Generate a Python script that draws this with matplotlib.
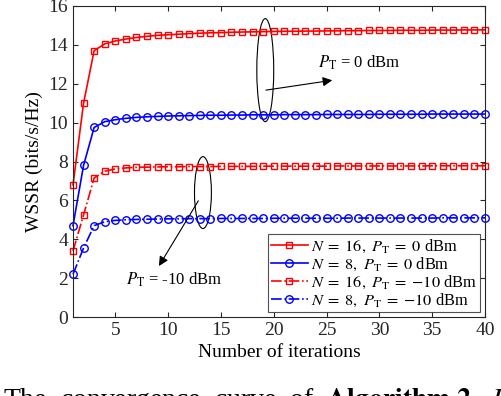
import numpy as np
import matplotlib.pyplot as plt
from matplotlib.patches import Ellipse

plt.rcParams['font.family'] = ['Liberation Serif', 'DejaVu Serif']
plt.rcParams['mathtext.fontset'] = 'stix'

iters = np.arange(1, 41)

# N = 16, PT = 0 dBm
w16_0 = [6.8, 11.0, 13.7, 14.05, 14.2, 14.3, 14.38, 14.44, 14.49, 14.52,
         14.55, 14.58, 14.6, 14.62, 14.63, 14.65, 14.66, 14.67, 14.68, 14.69,
         14.7, 14.7, 14.71, 14.71, 14.72, 14.72, 14.73, 14.73, 14.74, 14.74,
         14.74, 14.75, 14.75, 14.75, 14.76, 14.76, 14.76, 14.77, 14.77, 14.77]
# N = 8, PT = 0 dBm
w8_0 = [4.7, 7.8, 9.75, 10.05, 10.15, 10.22, 10.27, 10.3, 10.32, 10.34,
        10.35, 10.36, 10.37, 10.38, 10.38, 10.39, 10.39, 10.4, 10.4, 10.4,
        10.41, 10.41, 10.41, 10.41, 10.42, 10.42, 10.42, 10.42, 10.42, 10.43,
        10.43, 10.43, 10.43, 10.43, 10.44, 10.44, 10.44, 10.44, 10.44, 10.44]
# N = 16, PT = -10 dBm
w16_10 = [3.4, 5.25, 7.15, 7.5, 7.62, 7.67, 7.7, 7.71, 7.72, 7.73,
          7.73, 7.74, 7.74, 7.74, 7.75, 7.75, 7.75, 7.75, 7.76, 7.76,
          7.76, 7.76, 7.76, 7.76, 7.76, 7.77, 7.77, 7.77, 7.77, 7.77,
          7.77, 7.77, 7.77, 7.77, 7.78, 7.78, 7.78, 7.78, 7.78, 7.78]
# N = 8, PT = -10 dBm
w8_10 = [2.2, 3.55, 4.7, 4.9, 4.97, 5.0, 5.02, 5.03, 5.04, 5.05,
         5.05, 5.06, 5.06, 5.06, 5.07, 5.07, 5.07, 5.07, 5.07, 5.08,
         5.08, 5.08, 5.08, 5.08, 5.08, 5.08, 5.09, 5.09, 5.09, 5.09,
         5.09, 5.09, 5.09, 5.09, 5.09, 5.1, 5.1, 5.1, 5.1, 5.1]

labels = [r'$N\;=\;16,\ P_{\mathrm{T}}\;=\;0$ dBm',
          r'$N\;=\;8,\ P_{\mathrm{T}}\;=\;0$ dBm',
          r'$N\;=\;16,\ P_{\mathrm{T}}\;=\;{-}10$ dBm',
          r'$N\;=\;8,\ P_{\mathrm{T}}\;=\;{-}10$ dBm']

fig = plt.figure(figsize=(5.02, 3.96), dpi=100)
ax = fig.add_axes([73/502, 1-317/396, (485-73)/502, (317-6)/396])

ax.plot(iters, w16_0, 'rs-', ms=4.6, mfc='none', mew=1.0, lw=1.2, label=labels[0], clip_on=False)
ax.plot(iters, w8_0, 'bo-', ms=5.4, mfc='none', mew=1.0, lw=1.2, label=labels[1], clip_on=False)
ax.plot(iters, w16_10, 'rs-.', ms=4.6, mfc='none', mew=1.0, lw=1.2, label=labels[2], clip_on=False)
ax.plot(iters, w8_10, 'bo-.', ms=5.4, mfc='none', mew=1.0, lw=1.2, label=labels[3], clip_on=False)

ax.set_xlim(1, 40)
ax.set_ylim(0, 16)
ax.set_xticks(range(5, 41, 5))
ax.set_yticks(range(0, 17, 2))
ax.tick_params(direction='in', top=True, right=True, labelsize=14, colors='#262626')
for s in ax.spines.values():
    s.set_color('#262626')
    s.set_linewidth(0.8)
ax.set_xlabel('Number of iterations', fontsize=14)
ax.set_ylabel('WSSR (bits/s/Hz)', fontsize=14)

# annotations
ax.add_patch(Ellipse((19.2, 12.7), 1.6, 5.3, fill=False, ec='k', lw=0.8))
ax.annotate('', xy=(25.8, 12.2), xytext=(19.0, 11.65),
            arrowprops=dict(arrowstyle='-|>', color='k', lw=0.8, mutation_scale=14))
ax.text(24.2, 12.85, r'$P_{\mathrm{T}}$ = 0 dBm', fontsize=12)

ax.add_patch(Ellipse((13.3, 6.4), 1.6, 3.7, fill=False, ec='k', lw=0.8))
ax.annotate('', xy=(9.0, 2.5), xytext=(13.0, 6.1),
            arrowprops=dict(arrowstyle='-|>', color='k', lw=0.8, mutation_scale=14))
ax.text(6.0, 1.9, r'$P_{\mathrm{T}}$ = -10 dBm', fontsize=12, va='center')

leg = ax.legend(loc='lower right', fontsize=11.8, frameon=True, fancybox=False,
                edgecolor='#262626', borderaxespad=0.3, handlelength=2.2,
                handletextpad=0.2, labelspacing=0.05, borderpad=0.2)
leg.get_frame().set_linewidth(0.8)

fig.text(0.005, -0.027, r'The  convergence  curve  of  $\mathbf{Algorithm\ 2}$.  $D$',
         fontsize=20, va='baseline')

fig.savefig('out.png', dpi=100)
